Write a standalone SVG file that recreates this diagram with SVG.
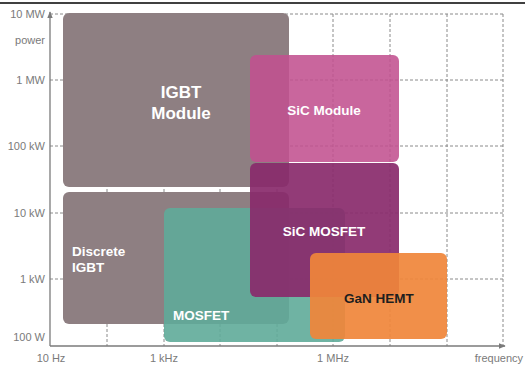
<svg xmlns="http://www.w3.org/2000/svg" width="525" height="367" viewBox="0 0 525 367">
<style>
.grid{stroke:#8a8a8a;stroke-width:1;stroke-dasharray:3 2;fill:none}
.axis{stroke:#7a7a7a;stroke-width:1.3;fill:none}
.lbl{font-family:"Liberation Sans",Arial,sans-serif;font-size:11px;fill:#7a7a7a}
.t{font-family:"Liberation Sans",Arial,sans-serif;font-weight:bold;fill:#fff}
</style>
<defs>
<marker id="ah" viewBox="0 0 10 10" refX="9" refY="5" markerWidth="7" markerHeight="7" orient="auto" markerUnits="userSpaceOnUse">
<path d="M0,1 L10,5 L0,9 Z" fill="#7a7a7a"/>
</marker>
</defs>
<rect width="525" height="367" fill="#fff"/>
<line x1="0" y1="3" x2="525" y2="3" stroke="#000" stroke-width="1.5"/>
<g id="grid">
<path class="grid" d="M50,14H503M50,80H503M50,146H503M50,213H503M50,279H503"/>
<path class="grid" d="M107,14V346M164,14V346M220,14V346M277,14V346M333,14V346M390,14V346M447,14V346M503,14V346"/>
</g>
<g id="axes">
<line class="axis" x1="50" y1="346" x2="50" y2="12" marker-end="url(#ah)"/>
<line class="axis" x1="50" y1="346" x2="505" y2="346" marker-end="url(#ah)"/>
<g class="lbl" text-anchor="end">
<text x="45" y="18">10 MW</text>
<text x="45" y="44">power</text>
<text x="45" y="84">1 MW</text>
<text x="45" y="150">100 kW</text>
<text x="45" y="217">10 kW</text>
<text x="45" y="283">1 kW</text>
<text x="45" y="341">100 W</text>
</g>
<g class="lbl" text-anchor="middle">
<text x="51" y="362">10 Hz</text>
<text x="164" y="362">1 kHz</text>
<text x="333" y="362">1 MHz</text>
</g>
<text class="lbl" x="523" y="362" text-anchor="end">frequency</text>
</g>
<g id="igbt-module">
<rect x="63" y="13" width="226" height="174" rx="6" fill="#8e7f82"/>
<text class="t" x="181" y="98" font-size="17" text-anchor="middle">IGBT</text>
<text class="t" x="181" y="119" font-size="17" text-anchor="middle">Module</text>
</g>
<g id="discrete-igbt">
<rect x="63" y="192" width="226" height="132" rx="6" fill="#8e7f82"/>
<text class="t" x="72" y="256" font-size="13.5">Discrete</text>
<text class="t" x="72" y="272" font-size="13.5">IGBT</text>
</g>
<g id="mosfet">
<rect x="164" y="208" width="181" height="134" rx="6" fill="#5fab99" fill-opacity="0.9"/>
<text class="t" x="173" y="320" font-size="13.5">MOSFET</text>
</g>
<g id="sic-module">
<rect x="250" y="55" width="149" height="107" rx="6" fill="#c2518f" fill-opacity="0.88"/>
<text class="t" x="324" y="115" font-size="13.5" text-anchor="middle">SiC Module</text>
</g>
<g id="sic-mosfet">
<rect x="250" y="163" width="149" height="134" rx="6" fill="#892a6b" fill-opacity="0.92"/>
<text class="t" x="324" y="236" font-size="13.5" text-anchor="middle">SiC MOSFET</text>
</g>
<g id="gan-hemt">
<rect x="310" y="253" width="137" height="86" rx="6" fill="#f0853a" fill-opacity="0.92"/>
<text class="t" x="379" y="303" font-size="13.5" text-anchor="middle" fill="#1e1e1e" style="fill:#1e1e1e">GaN HEMT</text>
</g>
</svg>
